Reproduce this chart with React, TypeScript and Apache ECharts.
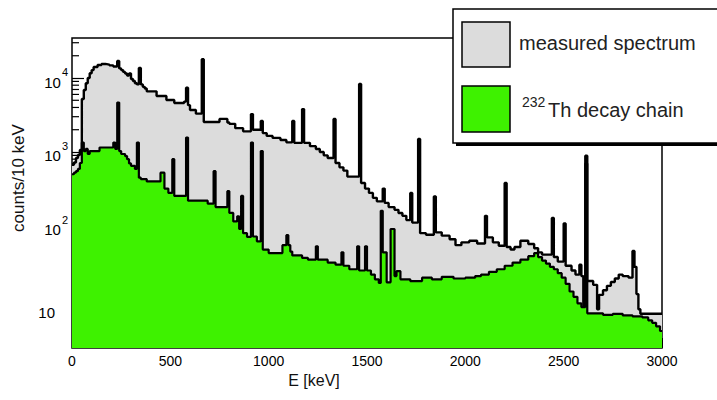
import React, { useEffect, useRef } from 'react';
import * as echarts from 'echarts';

// Measured spectrum: bin low edge (keV) and counts per 10 keV
const measuredEnergy = [
  0, 10, 20, 30, 40, 50, 60, 70, 80, 90, 100, 110, 130, 150, 170, 190, 210, 230, 240, 250,
  260, 270, 280, 290, 300, 310, 320, 330, 340, 350, 360, 370, 380, 430, 480, 520, 570, 580, 590, 600,
  630, 660, 670, 750, 790, 800, 830, 870, 910, 920, 960, 970, 990, 1020, 1060, 1090, 1120, 1130, 1170, 1180,
  1210, 1240, 1260, 1280, 1300, 1330, 1340, 1360, 1380, 1400, 1460, 1470, 1490, 1510, 1530, 1550, 1580, 1590, 1610, 1640,
  1660, 1680, 1700, 1720, 1730, 1760, 1770, 1800, 1840, 1850, 1880, 1920, 1950, 1980, 2020, 2060, 2100, 2110, 2140, 2170,
  2200, 2210, 2230, 2250, 2280, 2320, 2350, 2370, 2390, 2440, 2450, 2470, 2500, 2510, 2540, 2560, 2580, 2590, 2600, 2610,
  2620, 2650, 2670, 2680, 2700, 2720, 2740, 2760, 2780, 2800, 2830, 2850, 2860, 2870, 2880, 2890, 3000
];
const measuredCounts = [
  670, 720, 830, 910, 1065, 5200, 6900, 8500, 10000, 11600, 12800, 14100, 15000, 15500, 15200, 14800, 14300, 17000, 13500, 12800,
  12100, 11500, 10800, 11500, 9700, 9100, 8500, 8200, 13700, 8200, 7600, 7200, 6600, 5700, 5050, 4600, 4800, 7400, 4300, 3700,
  3300, 18000, 2540, 2800, 2500, 2400, 2100, 1900, 3250, 2000, 2630, 1800, 1650, 1550, 1450, 1350, 2630, 1330, 3800, 1330,
  1200, 1100, 1000, 900, 830, 2800, 710, 620, 560, 465, 8300, 380, 320, 280, 240, 215, 320, 205, 180, 165,
  150, 137, 120, 280, 111, 1500, 80, 76, 250, 82, 74, 66, 55, 60, 63, 58, 137, 70, 60, 54,
  380, 52, 48, 52, 63, 57, 50, 44, 41, 128, 38, 33, 108, 29, 25, 22, 30, 21, 8, 890,
  18, 16, 7.5, 11.7, 13.5, 15.5, 17.5, 19.5, 22, 21, 20, 46, 28, 12, 7.5, 6.5, 6.5
];

// 232Th decay chain: bin low edge (keV) and counts per 10 keV
const thEnergy = [
  0, 10, 20, 30, 40, 50, 60, 70, 80, 90, 140, 210, 220, 230, 240, 250, 270, 280, 290, 300,
  320, 330, 340, 350, 380, 450, 470, 490, 510, 520, 580, 590, 690, 720, 730, 790, 800, 820, 840, 850,
  860, 870, 890, 910, 920, 940, 960, 970, 1000, 1070, 1090, 1100, 1110, 1120, 1170, 1200, 1240, 1250, 1300, 1340,
  1370, 1380, 1410, 1450, 1460, 1490, 1500, 1520, 1540, 1560, 1570, 1580, 1600, 1620, 1640, 1650, 1670, 1720, 1780, 1830,
  1880, 1940, 2000, 2050, 2080, 2120, 2160, 2200, 2240, 2280, 2320, 2350, 2370, 2390, 2410, 2430, 2450, 2470, 2490, 2510,
  2530, 2550, 2570, 2590, 2610, 2620, 2700, 2750, 2800, 2850, 2900, 2930, 2950, 2970, 2990, 3000
];
const thCounts = [
  500, 525, 550, 590, 710, 1340, 1030, 1100, 940, 1030, 1150, 1340, 1100, 4650, 1030, 940, 880, 800, 700, 650,
  590, 1340, 450, 430, 400, 525, 320, 280, 800, 255, 1570, 220, 200, 550, 180, 295, 150, 115, 135, 91,
  255, 80, 71, 1340, 72, 62, 1030, 48, 43, 55, 75, 55, 45, 40, 37, 35, 53, 35, 32, 30,
  44, 29, 26, 53, 25, 53, 25, 22, 19, 17, 160, 44, 17.3, 91, 21, 24.5, 19, 18, 20, 19,
  20.5, 19.5, 20, 21, 22, 24, 26, 29, 32, 35, 39, 43, 38, 34, 31, 28, 26, 23, 20, 16.5,
  13, 11, 9, 8, 700, 6.6, 6.3, 6.5, 6.2, 6.0, 5.8, 5.3, 4.9, 4.4, 3.8, 3.8
];

const xTickLabels = ['0', '500', '1000', '1500', '2000', '2500', '3000'];
const yMinorTickValues = [
  20, 30, 40, 50, 60, 70, 80, 90,
  200, 300, 400, 500, 600, 700, 800, 900,
  2000, 3000, 4000, 5000, 6000, 7000, 8000, 9000,
  20000, 30000
];

const FONT = '"Liberation Sans", Arial, Helvetica, sans-serif';

export default function App() {
  const ref = useRef<HTMLDivElement>(null);
  useEffect(() => {
    const chart = echarts.init(ref.current as HTMLDivElement, null, { renderer: 'svg' });
    const measuredData = measuredEnergy.map((e, i) => [e, measuredCounts[i]]);
    const thData = thEnergy.map((e, i) => [e, thCounts[i]]);
    const option: any = {
      animation: false,
      backgroundColor: '#ffffff',
      textStyle: { fontFamily: FONT },
      grid: {
        left: 72, right: 55, top: 38, bottom: 52,
        show: true, borderColor: '#000', borderWidth: 1.5, backgroundColor: 'transparent'
      },
      xAxis: {
        type: 'value', min: 0, max: 3000, interval: 500,
        name: 'E [keV]', nameLocation: 'middle', nameGap: 22,
        nameTextStyle: { fontSize: 16, color: '#111', fontFamily: FONT, padding: [0, 106, 0, 0] },
        axisLine: { show: false },
        axisTick: { show: true, inside: true, length: 10, lineStyle: { color: '#000' } },
        splitLine: { show: false },
        axisLabel: {
          fontSize: 14, color: '#000', margin: 6, fontFamily: FONT,
          formatter: (v: number) => xTickLabels[Math.round(v / 500)] ?? ''
        }
      },
      yAxis: {
        type: 'log', logBase: 10, min: 2.24, max: 34750,
        name: 'counts/10 keV', nameLocation: 'middle', nameGap: 44, nameRotate: 90,
        nameTextStyle: { fontSize: 17, color: '#111', fontFamily: FONT, padding: [0, 0, 0, 30] },
        axisLine: { show: false },
        axisTick: { show: true, inside: true, length: 12, lineStyle: { color: '#000', width: 1.2 } },
        splitLine: { show: false },
        axisLabel: {
          showMinLabel: false, showMaxLabel: false, margin: 4, color: '#000', fontFamily: FONT,
          formatter: (v: number) => {
            const l = Math.log10(v);
            const e = Math.round(l);
            if (Math.abs(l - e) > 0.01) return '';
            if (e === 1) return '{t|10}';
            return '{b|10}{s|' + e + '}';
          },
          rich: {
            b: { fontSize: 15, color: '#000', fontFamily: FONT, padding: [8, 0, 0, 0], verticalAlign: 'bottom' },
            s: { fontSize: 11, color: '#000', fontFamily: FONT, verticalAlign: 'top', padding: [0, 0, 0, 1] },
            t: { fontSize: 15, color: '#000', fontFamily: FONT, padding: [26, 13, 0, 0], verticalAlign: 'bottom' }
          }
        }
      },
      series: [
        {
          type: 'custom', silent: true, z: 1, clip: false,
          data: yMinorTickValues.map((v) => [0, v]),
          renderItem: (params: any, api: any) => {
            const p = api.coord([0, api.value(1)]);
            return {
              type: 'line',
              shape: { x1: p[0], y1: p[1], x2: p[0] + 7, y2: p[1] },
              style: { stroke: '#000', lineWidth: 1.2 }
            };
          }
        },
        {
          name: 'measured spectrum', type: 'line', step: 'end', data: measuredData,
          symbol: 'none', silent: true, z: 2,
          lineStyle: { color: '#000', width: 2.4 },
          areaStyle: { color: '#dcdcdc', opacity: 1, origin: 'start' }
        },
        {
          name: '232Th decay chain', type: 'line', step: 'end', data: thData,
          symbol: 'none', silent: true, z: 3,
          lineStyle: { color: '#000', width: 2.2 },
          areaStyle: { color: '#3ef200', opacity: 1, origin: 'start' }
        }
      ],
      graphic: [
        { type: 'rect', z: 10, shape: { x: 456, y: 12, width: 300, height: 134 }, style: { fill: '#000' } },
        { type: 'rect', z: 11, shape: { x: 453, y: 9, width: 300, height: 134 }, style: { fill: '#fff', stroke: '#000', lineWidth: 1.5 } },
        { type: 'rect', z: 12, shape: { x: 462, y: 22, width: 48, height: 45 }, style: { fill: '#dcdcdc', stroke: '#000', lineWidth: 1.5 } },
        { type: 'rect', z: 12, shape: { x: 462, y: 86, width: 48, height: 46 }, style: { fill: '#3ef200', stroke: '#000', lineWidth: 1.5 } },
        { type: 'text', z: 12, x: 519, y: 43, style: { text: 'measured spectrum', fontSize: 20, fontFamily: FONT, fill: '#222', verticalAlign: 'middle' } },
        { type: 'text', z: 12, x: 522, y: 102, style: { text: '232', fontSize: 14, fontFamily: FONT, fill: '#222', verticalAlign: 'middle' } },
        { type: 'text', z: 12, x: 548, y: 110, style: { text: 'Th decay chain', fontSize: 20, fontFamily: FONT, fill: '#222', verticalAlign: 'middle' } }
      ]
    };
    chart.setOption(option);
    return () => chart.dispose();
  }, []);
  return (
    <div
      ref={ref}
      style={{ position: 'fixed', left: 0, top: 0, width: 717, height: 400, background: '#fff' }}
    />
  );
}
